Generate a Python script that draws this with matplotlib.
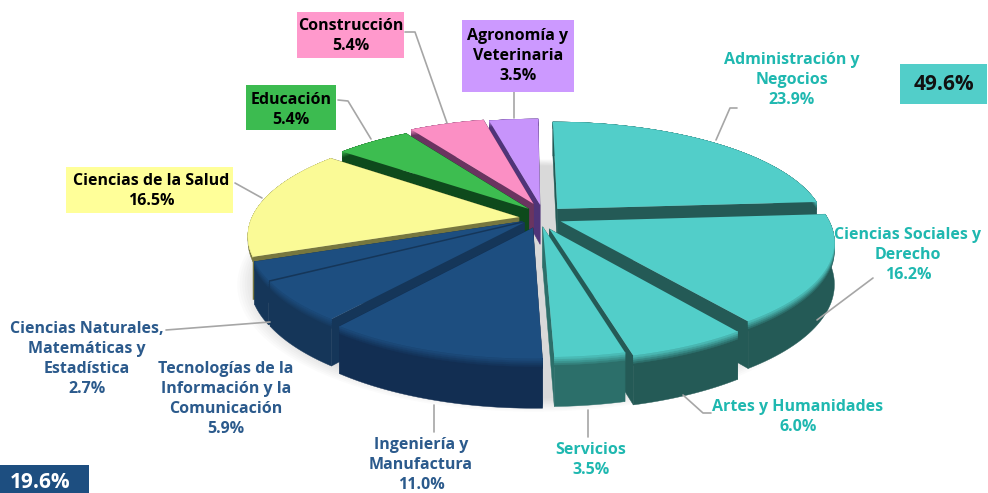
import matplotlib
matplotlib.use("Agg")
import matplotlib.pyplot as plt
from matplotlib.colors import to_rgb
import numpy as np

plt.rcParams["font.family"] = ["Open Sans", "DejaVu Sans"]

# data, clockwise from the top
categories = ["Administración y\nNegocios", "Ciencias Sociales y\nDerecho", "Artes y Humanidades",
              "Servicios", "Ingeniería y\nManufactura", "Tecnologías de la\nInformación y la\nComunicación",
              "Ciencias Naturales,\nMatemáticas y\nEstadística", "Ciencias de la Salud", "Educación",
              "Construcción", "Agronomía y\nVeterinaria"]
shares = [23.9, 16.2, 6.0, 3.5, 11.0, 5.9, 2.7, 16.5, 5.4, 5.4, 3.5]
group_totals = [49.6, 19.6]

# look of the slices
top_colors = ["#52cec9"] * 4 + ["#1d4e80"] * 3 + ["#fafa96", "#3dbd50", "#fb8fc4", "#c794fb"]
side_colors = ["#245a56", "#245a56", "#245a56", "#2c6f6a", "#122e52", "#153659", "#153659",
               "#77773f", "#0e4a1c", "#6a3460", "#4f3478"]
shift_u = [0.115, 0.125, 0.082, 0.058, 0.022, -0.01, -0.017, -0.03, 0.007, 0.025, 0.05]
shift_v = [0.04, -0.08, -0.15, -0.13, -0.14, -0.09, -0.08, -0.04, 0.04, 0.09, 0.08]
rim_depth = [1, 1, 1, 1, 1, 1, 1, 0.12, 1, 1, 1]

CX, CY = 527, 213
RX, RY = 265, 103
PERSP = 0.17
DEPTH = 40


def project(u, v, drop=0.0):
    w = 1 + PERSP * v
    return CX + RX * u / w, CY - RY * v / w + drop * DEPTH / w


def blend(a, b, t):
    a, b = np.array(to_rgb(a)), np.array(to_rgb(b))
    return tuple(a + (b - a) * t)


fig = plt.figure(figsize=(9.88, 4.93), dpi=100)
ax = fig.add_axes([0, 0, 1, 1])
ax.set_xlim(0, 988)
ax.set_ylim(493, 0)
ax.axis("off")

# soft shadow under the whole pie
circle = np.linspace(0, 2 * np.pi, 200)
for grow in np.linspace(1.08, 1.0, 10):
    sx, sy = project(grow * np.sin(circle) + 0.02, grow * np.cos(circle) - 0.08, 1.0)
    ax.fill(sx, sy, color="#808080", alpha=0.03, lw=0, zorder=1)

edges = np.cumsum([0] + shares) / 100 * 2 * np.pi
mid_v = [np.cos((edges[i] + edges[i + 1]) / 2) + shift_v[i] for i in range(len(shares))]
order = np.argsort(-np.array(mid_v))

z = 2
for i in order:
    theta = np.linspace(edges[i], edges[i + 1], 40)
    u = np.r_[shift_u[i], shift_u[i] + np.sin(theta)]
    v = np.r_[shift_v[i], shift_v[i] + np.cos(theta)]
    x, y = project(u, v)
    x2, y2 = project(u, v, 1.0)

    # flat cut faces
    for a, b in [(0, 1), (len(u) - 1, 0)]:
        ax.fill([x[a], x[b], x2[b], x2[a]], [y[a], y[b], y2[b], y2[a]], color=side_colors[i], lw=0.3, zorder=z)
    z += 1

    # rim, lit near the top edge
    steps = [1.0, 0.2, 0.16, 0.12, 0.08, 0.04]
    for s in steps:
        xb, yb = project(u[1:], v[1:], s * rim_depth[i])
        xa, ya = project(u[1:], v[1:], 0.0)
        col = blend(top_colors[i], side_colors[i], min(s / 0.2, 1))
        ax.fill(np.r_[xa, xb[::-1]], np.r_[ya, yb[::-1]], color=col, lw=0.3, zorder=z)
        z += 1

    ax.fill(x, y, color=top_colors[i], lw=0, zorder=z)
    z += 1

# leader lines
leaders = [[(716, 140), (730, 108), (737, 108)], [(817, 320), (873, 278)], [(683, 395), (703, 413), (711, 413)],
           [(588, 410), (588, 437)], [(434, 405), (434, 432)], [(270, 322), (166, 330)],
           [(262, 198), (235, 183)], [(371, 139), (348, 101), (338, 100)], [(447, 123), (415, 32), (405, 32)],
           [(514, 118), (514, 92)]]
for line in leaders:
    ax.plot(*zip(*line), color="#a6a6a6", lw=1.2, zorder=z, solid_capstyle="round")

# boxes behind the labels
boxes = [(297, 12, 107, 46, "#ff99cc"), (462, 20, 112, 72, "#cc99ff"), (246, 85, 90, 45, "#3cbb50"),
         (66, 167, 167, 46, "#ffff99"), (900, 64, 87, 40, "#52cec9"), (0, 465, 89, 28, "#1d4e80")]
for bx, by, bw, bh, col in boxes:
    ax.add_patch(plt.Rectangle((bx, by), bw, bh, facecolor=col, edgecolor="none", zorder=z))
z += 1

TEAL = "#1fb8b0"
BLUE = "#2b5a8c"
label_spots = [(792, 80, TEAL), (908, 255, TEAL), (798, 417, TEAL), (591, 460, TEAL), (421, 465, BLUE),
               (226, 399, BLUE), (87, 359, BLUE), (151, 191, "black"), (291, 110, "black"),
               (351, 36, "black"), (518, 56, "black")]
for name, share, (lx, ly, col) in zip(categories, shares, label_spots):
    ax.text(lx, ly, f"{name}\n{share:.1f}%", ha="center", va="center", multialignment="center",
            color=col, fontsize=11.5, fontweight="bold", linespacing=1.33, zorder=z)

ax.text(944, 84, f"{group_totals[0]:.1f}%", ha="center", va="center", fontsize=15,
        fontweight="bold", color="#111111", zorder=z)
ax.text(40, 483, f"{group_totals[1]:.1f}%", ha="center", va="center", fontsize=15,
        fontweight="bold", color="white", zorder=z)

fig.savefig("out.png", dpi=100)
